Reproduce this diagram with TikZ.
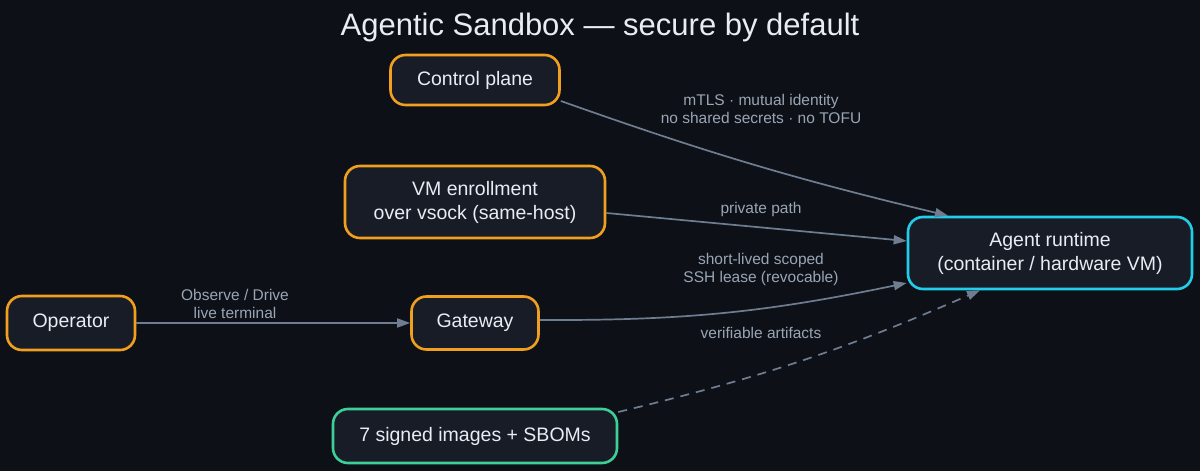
\documentclass[tikz,border=0pt]{standalone}
\usepackage{fontspec}
\setmainfont{Liberation Sans}
\usetikzlibrary{arrows.meta}

\definecolor{bgdark}{HTML}{0D1117}
\definecolor{boxfill}{HTML}{171C27}
\definecolor{boxorange}{HTML}{F0A01E}
\definecolor{boxgreen}{HTML}{3ECF98}
\definecolor{boxcyan}{HTML}{22CDEA}
\definecolor{edgegray}{HTML}{6F7D90}
\definecolor{labelgray}{HTML}{9AA5B4}
\definecolor{textwhite}{HTML}{E8EDF3}

\tikzset{
  box/.style={rectangle,rounded corners=15pt,draw=boxorange,fill=boxfill,line width=2.6pt,
    text=textwhite,align=center,inner sep=0pt,font=\fontsize{19.5}{24}\selectfont},
  flow/.style={draw=edgegray,line width=1.7pt,-{Triangle[length=13pt,width=9pt]}},
  flowlabel/.style={text=labelgray,align=center,font=\fontsize{15.5}{18}\selectfont}
}

\begin{document}
\begin{tikzpicture}[x=1pt,y=1pt]
\useasboundingbox (0,0) rectangle (1200,471);
\fill[bgdark] (0,0) rectangle (1200,471);

% title
\node[text=textwhite,font=\fontsize{31}{36}\selectfont] (title) at (600,444) {Agentic Sandbox — secure by default};

% boxes
\node[box,minimum width=169pt,minimum height=50pt] (ctrl) at (475,391) {Control plane};
\node[box,minimum width=260pt,minimum height=72pt] (enroll) at (475,269) {VM enrollment\\over vsock (same-host)};
\node[box,minimum width=128pt,minimum height=54pt] (operator) at (71,148) {Operator};
\node[box,minimum width=127pt,minimum height=53pt] (gateway) at (475,148) {Gateway};
\node[box,draw=boxgreen,minimum width=284pt,minimum height=54pt] (images) at (475,35) {7 signed images + SBOMs};
\node[box,draw=boxcyan,minimum width=284pt,minimum height=72pt] (agent) at (1050,218) {Agent runtime\\(container / hardware VM)};

% connectors
\draw[flow] ([yshift=-21pt]ctrl.east) to[bend right=3] ([xshift=-102pt]agent.north);
\draw[flow] ([yshift=-11pt]enroll.east) to ([yshift=12pt]agent.west);
\draw[flow] (operator.east) to (gateway.west);
\draw[flow] ([yshift=3pt]gateway.east) to[bend right=6] ([yshift=-30pt]agent.west);
\draw[flow,dash pattern=on 9pt off 7pt] ([yshift=24pt]images.east) to[bend right=5] ([xshift=-70pt]agent.south);

% labels
\node[flowlabel] (lblmtls) at (761,362) {mTLS · mutual identity\\no shared secrets · no TOFU};
\node[flowlabel] (lblpriv) at (761,262) {private path};
\node[flowlabel] (lblssh) at (761,202) {short-lived scoped\\SSH lease (revocable)};
\node[flowlabel] (lblobs) at (235,167) {Observe / Drive\\live terminal};
\node[flowlabel] (lblart) at (761,138) {verifiable artifacts};
\end{tikzpicture}
\end{document}
